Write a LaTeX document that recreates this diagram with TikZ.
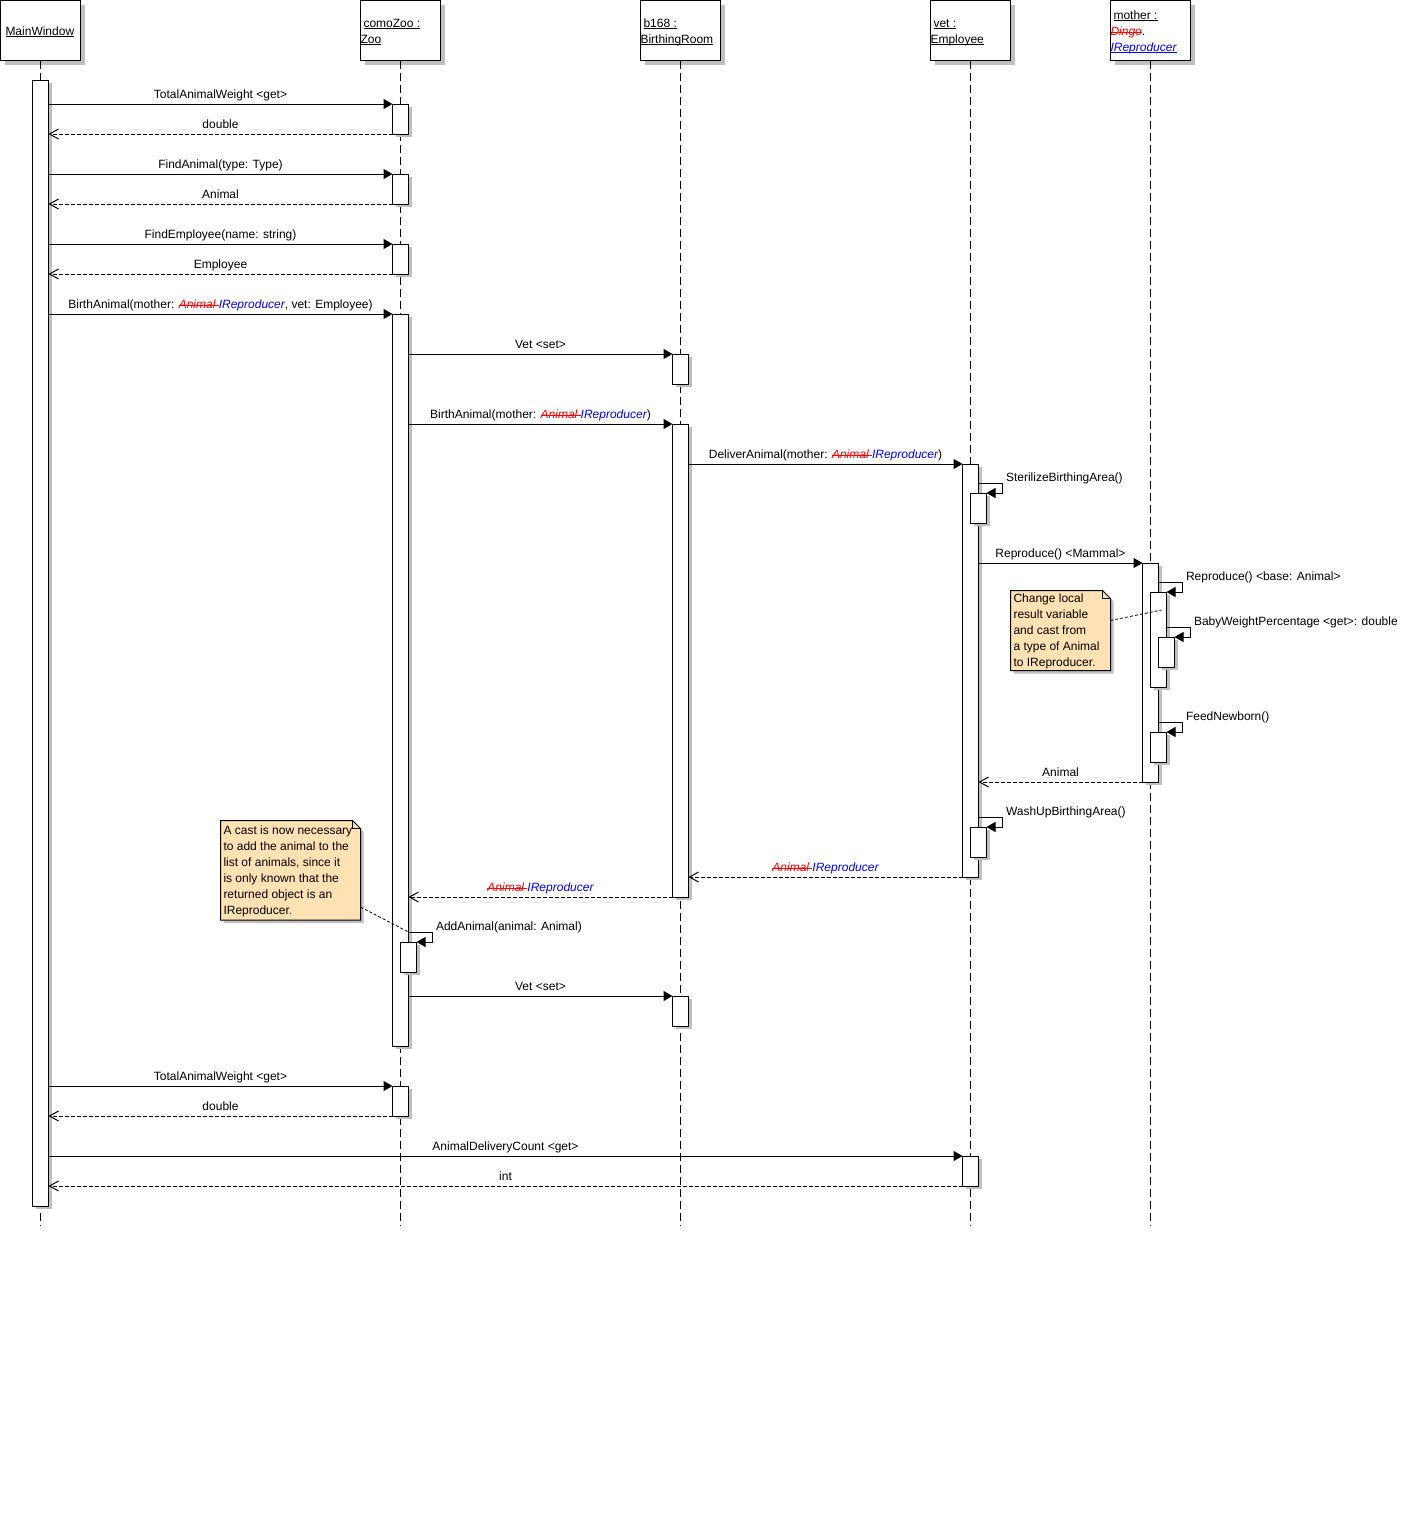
\documentclass[tikz,border=0pt]{standalone}
\usepackage{fontspec}
\setmainfont{Liberation Sans}
\usetikzlibrary{arrows.meta,shadows}
\definecolor{shadowc}{RGB}{192,192,192}
\definecolor{notefill}{RGB}{255,226,180}
\newcommand\dfont{\fontsize{12}{16}\selectfont}
\newcommand\undl[1]{\setbox0\hbox{#1}\rlap{\rule[-1.6pt]{\wd0}{0.8pt}}\box0}
\newcommand\was[1]{{\color{red}\itshape\setbox0\hbox{#1\ }\rlap{\rule[2.5pt]{\wd0}{0.9pt}}\box0}}
\newcommand\rep{{\color{blue}\itshape IReproducer}}
\newcommand\selfcall[2]{%
  \draw[call] ([shift={(-8,-10)}]#1.north east) -- ++(24,0) node[slbl]{#2} -- ++(0,10) -- (#1.north east);}
\newcommand\notebox[1]{%
  \fill[shadowc] ([shift={(3,3)}]#1.north west) -- ([shift={(-5,3)}]#1.north east) -- ([shift={(3,11)}]#1.north east) -- ([shift={(3,3)}]#1.south east) -- ([shift={(3,3)}]#1.south west) -- cycle;
  \draw[fill=notefill] (#1.north west) -- ([shift={(-8,0)}]#1.north east) -- ([shift={(0,8)}]#1.north east) -- (#1.south east) -- (#1.south west) -- cycle;
  \draw[line width=0.8pt] ([shift={(-8,0)}]#1.north east) -- ([shift={(-8,8)}]#1.north east) -- ([shift={(0,8)}]#1.north east);}
\begin{document}
\begin{tikzpicture}[x=1pt,y=-1pt,line width=1pt,
  every node/.style={font=\dfont},
  hdr/.style={draw, fill=white, minimum width=80pt, minimum height=60pt, inner sep=0pt, outer sep=0pt, anchor=north west,
    drop shadow={shadow xshift=4pt, shadow yshift=-4pt, fill=shadowc, opacity=1}},
  htxt/.style={inner sep=0pt, anchor=base west},
  bar/.style={draw, fill=white, minimum width=16pt, inner sep=0pt, outer sep=0pt, anchor=north,
    drop shadow={shadow xshift=3pt, shadow yshift=-3pt, fill=shadowc, opacity=1}},
  lifeline/.style={dash pattern=on 8pt off 4pt},
  call/.style={-{Triangle[length=9pt,width=10pt]}},
  ret/.style={dash pattern=on 4pt off 2pt, -{Straight Barb[length=9pt,width=10pt]}},
  lbl/.style={inner sep=0pt, anchor=base, yshift=6pt},
  slbl/.style={inner sep=0pt, anchor=base west, xshift=3pt, yshift=1.5pt},
  notearea/.style={inner sep=0pt, outer sep=0pt, anchor=north west},
  notetxt/.style={inner sep=0pt, anchor=north west, align=left, execute at begin node=\strut},
  notelink/.style={dash pattern=on 3pt off 2pt}]
\fill[white] (0,0) rectangle (1404,1524);
\useasboundingbox (0,0) rectangle (1404,1524);
\coordinate (lend) at (0,1225);
% headers
\node[hdr] (hMW) at (0.5,0.5) {};
\node[hdr] (hZ) at (360.5,0.5) {};
\node[hdr] (hB) at (640.5,0.5) {};
\node[hdr] (hV) at (930.5,0.5) {};
\node[hdr] (hM) at (1110.5,0.5) {};
\node[htxt] (tMW) at (5,35) {\undl{MainWindow}};
\node[htxt] (tZa) at (363,27) {\undl{comoZoo :}};
\node[htxt] (tZb) at (360,43) {\undl{Zoo}};
\node[htxt] (tBa) at (643,27) {\undl{b168 :}};
\node[htxt] (tBb) at (640,43) {\undl{BirthingRoom}};
\node[htxt] (tVa) at (933,27) {\undl{vet :}};
\node[htxt] (tVb) at (930,43) {\undl{Employee}};
\node[htxt] (tMa) at (1113,19) {\undl{mother :}};
\node[htxt] (tMb) at (1110,35) {{\color{red}\itshape\setbox0\hbox{Dingo}\rlap{\rule[2.5pt]{\wd0}{0.9pt}}\box0}.};
\node[htxt] (tMc) at (1110,51) {{\color{blue}\undl{\itshape IReproducer}}};
% lifelines
\foreach \h in {hMW,hZ,hB,hV,hM} \draw[lifeline] (\h.south) -- (\h.south |- lend);
% activation bars
\node[bar, minimum height=1126pt] (mw) at (40.5,80) {};
\node[bar, minimum height=30pt] (z1) at (400.5,104) {};
\node[bar, minimum height=30pt] (z2) at (400.5,174) {};
\node[bar, minimum height=30pt] (z3) at (400.5,244) {};
\node[bar, minimum height=732pt] (z4) at (400.5,314) {};
\node[bar, minimum height=30pt] (z4n) at (408.5,942) {};
\node[bar, minimum height=30pt] (z5) at (400.5,1086) {};
\node[bar, minimum height=30pt] (b1) at (680.5,354) {};
\node[bar, minimum height=473pt] (b2) at (680.5,424) {};
\node[bar, minimum height=30pt] (b3) at (680.5,996) {};
\node[bar, minimum height=413pt] (v1) at (970.5,464) {};
\node[bar, minimum height=30pt] (v1a) at (978.5,493) {};
\node[bar, minimum height=30pt] (v1b) at (978.5,827) {};
\node[bar, minimum height=30pt] (v2) at (970.5,1156) {};
\node[bar, minimum height=219pt] (m1) at (1150.5,563) {};
\node[bar, minimum height=95pt] (m1a) at (1158.5,592) {};
\node[bar, minimum height=30pt] (m1b) at (1166.5,637) {};
\node[bar, minimum height=30pt] (m1c) at (1158.5,732) {};
% messages
\draw[call] (mw.east |- z1.north) -- node[lbl]{TotalAnimalWeight <get>} (z1.north west);
\draw[ret] (z1.south west) -- node[lbl]{double} (mw.east |- z1.south);
\draw[call] (mw.east |- z2.north) -- node[lbl]{FindAnimal(type: Type)} (z2.north west);
\draw[ret] (z2.south west) -- node[lbl]{Animal} (mw.east |- z2.south);
\draw[call] (mw.east |- z3.north) -- node[lbl]{FindEmployee(name: string)} (z3.north west);
\draw[ret] (z3.south west) -- node[lbl]{Employee} (mw.east |- z3.south);
\draw[call] (mw.east |- z4.north) -- node[lbl]{BirthAnimal(mother: \was{Animal}\rep, vet: Employee)} (z4.north west);
\draw[call] (z4.east |- b1.north) -- node[lbl]{Vet <set>} (b1.north west);
\draw[call] (z4.east |- b2.north) -- node[lbl]{BirthAnimal(mother: \was{Animal}\rep)} (b2.north west);
\draw[call] (b2.east |- v1.north) -- node[lbl]{DeliverAnimal(mother: \was{Animal}\rep)} (v1.north west);
\selfcall{v1a}{SterilizeBirthingArea()}
\draw[call] (v1.east |- m1.north) -- node[lbl]{Reproduce() <Mammal>} (m1.north west);
\selfcall{m1a}{Reproduce() <base: Animal>}
\selfcall{m1b}{BabyWeightPercentage <get>: double}
\selfcall{m1c}{FeedNewborn()}
\draw[ret] (m1.south west) -- node[lbl]{Animal} (v1.east |- m1.south);
\selfcall{v1b}{WashUpBirthingArea()}
\draw[ret] (v1.south west) -- node[lbl]{\was{Animal}\rep} (b2.east |- v1.south);
\draw[ret] (b2.south west) -- node[lbl]{\was{Animal}\rep} (z4.east |- b2.south);
\selfcall{z4n}{AddAnimal(animal: Animal)}
\draw[call] (z4.east |- b3.north) -- node[lbl]{Vet <set>} (b3.north west);
\draw[call] (mw.east |- z5.north) -- node[lbl]{TotalAnimalWeight <get>} (z5.north west);
\draw[ret] (z5.south west) -- node[lbl]{double} (mw.east |- z5.south);
\draw[call] (mw.east |- v2.north) -- node[lbl]{AnimalDeliveryCount <get>} (v2.north west);
\draw[ret] (v2.south west) -- node[lbl]{int} (mw.east |- v2.south);
% notes
\node[notearea, minimum width=140pt, minimum height=99.5pt] (note1) at (220.5,820.5) {};
\notebox{note1}
\node[notetxt] (note1t) at (223,825.3) {A cast is now necessary\\to add the animal to the\\list of animals, since it\\is only known that the\\returned object is an\\IReproducer.};
\draw[notelink, line width=0.8pt] ([shift={(0,-13)}]note1.south east) -- ([shift={(-8,-10)}]z4n.north east);
\node[notearea, minimum width=100pt, minimum height=80pt] (note2) at (1010.5,590.5) {};
\notebox{note2}
\node[notetxt] (note2t) at (1013,593.3) {Change local\\result variable\\and cast from\\a type of Animal\\to IReproducer.};
\draw[notelink, line width=0.8pt] ([shift={(0,-10)}]note2.east) -- ([shift={(11,18)}]m1a.north west);
\end{tikzpicture}
\end{document}
